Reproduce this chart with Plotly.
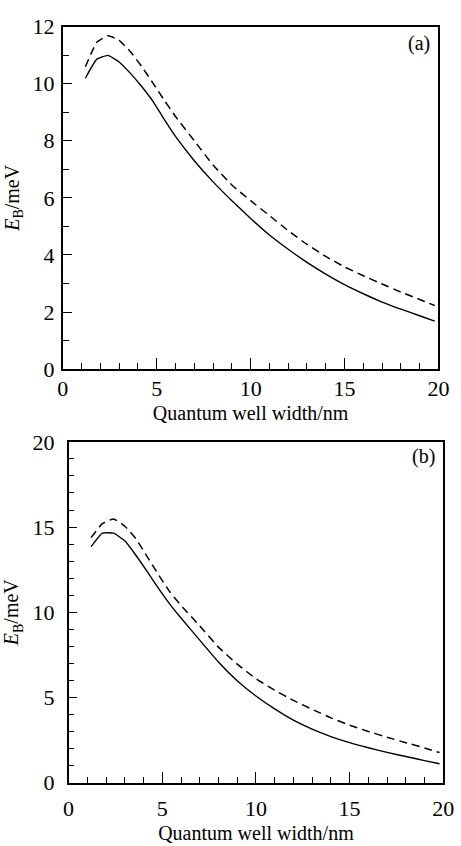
import plotly.graph_objects as go

# ---- data ----
width_a = [1.2, 1.8, 2.4, 3.0, 3.6, 4.2, 4.8, 5.4, 6.0, 7.0, 8.0, 9.0, 10.0,
           11.0, 12.0, 13.0, 14.0, 15.0, 16.0, 17.0, 18.0, 19.0, 19.8]
solid_a = [10.19, 10.85, 10.99, 10.76, 10.36, 9.90, 9.38, 8.75, 8.15, 7.30,
           6.56, 5.90, 5.28, 4.70, 4.20, 3.74, 3.33, 2.96, 2.64, 2.35, 2.10,
           1.87, 1.68]
dashed_a = [10.59, 11.44, 11.68, 11.52, 11.12, 10.60, 10.02, 9.42, 8.85, 8.00,
            7.15, 6.45, 5.90, 5.38, 4.85, 4.37, 3.95, 3.58, 3.27, 2.98, 2.70,
            2.44, 2.23]

width_b = [1.2, 1.8, 2.4, 3.0, 3.6, 4.2, 4.8, 5.4, 6.0, 7.0, 8.0, 9.0, 10.0,
           11.0, 12.0, 13.0, 14.0, 15.0, 16.0, 17.0, 18.0, 19.0, 19.8]
solid_b = [13.85, 14.65, 14.64, 14.19, 13.33, 12.38, 11.40, 10.48, 9.66, 8.36,
           7.08, 5.98, 5.08, 4.32, 3.66, 3.13, 2.70, 2.34, 2.04, 1.77, 1.53,
           1.29, 1.10]
dashed_b = [14.38, 15.20, 15.48, 15.05, 14.30, 13.25, 12.20, 11.20, 10.40, 9.20,
            7.95, 6.95, 6.10, 5.42, 4.82, 4.30, 3.80, 3.37, 3.00, 2.66, 2.34,
            2.03, 1.76]

panel_labels = ["(a)", "(b)"]
x_title = "Quantum well width/nm"
y_title = "<i>E</i><sub>B</sub>/meV"

W, H = 461, 846
FONT = "Liberation Serif, Times New Roman, serif"

def px_x(p):
    return p / W

def px_y(p):
    return 1 - p / H

fig = go.Figure()

line_solid = dict(color="black", width=1.4, shape="spline", smoothing=0.4)
line_dash = dict(color="black", width=1.5, dash="8px,5px", shape="spline", smoothing=0.4)

fig.add_trace(go.Scatter(x=width_a, y=solid_a, mode="lines", line=line_solid,
                         xaxis="x", yaxis="y", showlegend=False))
fig.add_trace(go.Scatter(x=width_a, y=dashed_a, mode="lines", line=line_dash,
                         xaxis="x", yaxis="y", showlegend=False))
fig.add_trace(go.Scatter(x=width_b, y=solid_b, mode="lines", line=line_solid,
                         xaxis="x2", yaxis="y2", showlegend=False))
fig.add_trace(go.Scatter(x=width_b, y=dashed_b, mode="lines", line=line_dash,
                         xaxis="x2", yaxis="y2", showlegend=False))

common = dict(
    showgrid=False, zeroline=False, showline=True, linecolor="black",
    linewidth=1.6, mirror=True, ticks="inside", tickcolor="black",
    tickwidth=1.3, tickfont=dict(family=FONT, size=22, color="black"),
)

minor_ticks = dict(ticks="inside", dtick=1, ticklen=6, tickcolor="black", tickwidth=1.3)

def x_axis(domain, anchor, label_off):
    return dict(common, domain=domain, anchor=anchor, range=[0, 20], dtick=5, tick0=0,
                ticklen=11, minor=minor_ticks, ticklabelstandoff=label_off,
                title=dict(text=x_title, font=dict(family=FONT, size=20, color="black"),
                           standoff=6))

def y_axis(domain, anchor, rng, dtick, label_off):
    return dict(common, domain=domain, anchor=anchor, range=rng, dtick=dtick,
                ticklen=9, minor=minor_ticks, ticklabelstandoff=label_off,
                title=dict(text=y_title, font=dict(family=FONT, size=20, color="black"),
                           standoff=8))

fig.update_layout(
    width=W, height=H,
    margin=dict(l=0, r=0, t=0, b=0),
    paper_bgcolor="white", plot_bgcolor="white",
    font=dict(family=FONT, size=20, color="black"),
    xaxis=x_axis([px_x(59), px_x(449)], "y", -1),
    yaxis=y_axis([px_y(368), px_y(15)], "x", [0, 12], 2, 2),
    xaxis2=x_axis([px_x(65), px_x(454)], "y2", 5),
    yaxis2=y_axis([px_y(794), px_y(443)], "x2", [0, 20], 5, 8),
    annotations=[
        dict(text=panel_labels[0], x=px_x(429), y=px_y(32), xref="paper", yref="paper",
             xanchor="center", yanchor="middle",
             showarrow=False, font=dict(family=FONT, size=20, color="black")),
        dict(text=panel_labels[1], x=px_x(434), y=px_y(458), xref="paper", yref="paper",
             xanchor="center", yanchor="middle",
             showarrow=False, font=dict(family=FONT, size=20, color="black")),
    ],
)

fig.write_html("out.html", config={"displayModeBar": False},
               post_script="document.body.style.margin='0px';")
